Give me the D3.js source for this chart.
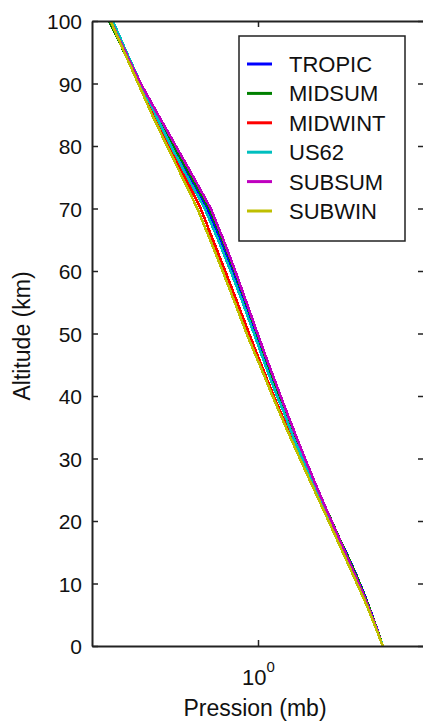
<!DOCTYPE html>
<html>
<head>
<meta charset="utf-8">
<script src="https://cdn.jsdelivr.net/npm/d3@7.9.0/dist/d3.min.js"></script>
<style>
  body { margin: 0; background: #fff; }
  svg text { font-family: Arial, "Liberation Sans", sans-serif; fill: #111; }
</style>
</head>
<body>
<div id="chart"></div>
<script>
// altitude levels (km)
const altitudes = [0,1,2,3,4,5,6,7,8,9,10,11,12,13,14,15,16,17,18,19,20,21,22,23,24,25,
  27.5,30,32.5,35,37.5,40,42.5,45,47.5,50,55,60,65,70,75,80,85,90,95,100];

// pressure (mb) for each profile
const tropic = [1013,904,805,715,633,559,492,432,378,329,286,247,213,182,156,132,111,93.7,78.9,66.6,56.5,48.0,40.9,35.0,30.0,25.7,
  17.63,12.2,8.52,6.00,4.26,3.05,2.20,1.59,1.16,0.854,0.456,0.239,0.121,0.058,0.022,0.0085,0.0035,0.0014,0.00063,0.000289];
const midsum = [1013,902,802,710,628,554,487,426,372,324,281,243,209,179,153,130,111,95.0,81.2,69.5,59.5,51.0,43.7,37.6,32.2,27.7,
  19.07,13.2,9.3,6.52,4.64,3.33,2.41,1.76,1.29,0.951,0.515,0.272,0.139,0.067,0.025,0.0093,0.0036,0.00138,0.0006,0.000258];
const midwint = [1018,897.3,789.7,693.8,608.1,531.3,462.7,401.6,347.3,299.2,256.8,219.9,188.2,161.0,137.8,117.8,100.7,86.1,73.5,62.8,53.7,45.8,39.1,33.4,28.6,24.3,
  16.6,11.1,7.35,5.0,3.45,2.40,1.69,1.20,0.85,0.61,0.315,0.162,0.082,0.0415,0.0175,0.0072,0.0031,0.0014,0.00064,0.00029];
const us62 = [1013,898.6,795.0,701.2,616.6,540.5,472.2,411.1,356.5,308.0,265.0,227.0,194.0,165.8,141.7,121.1,103.5,88.5,75.65,64.67,55.29,47.29,40.47,34.67,29.72,25.49,
  17.43,11.97,8.01,5.746,4.15,2.871,2.06,1.491,1.09,0.7978,0.425,0.219,0.109,0.0522,0.020,0.0080,0.0034,0.0015,0.00068,0.00032];
const subsum = [1010,896,792.9,700,616,541,473,413,359,310.8,267.7,230,197.7,170,146,125.8,108,92.8,79.8,68.6,58.9,50.7,43.6,37.5,32.27,27.8,
  19.4,13.6,9.61,6.83,4.88,3.51,2.53,1.83,1.33,0.975,0.527,0.283,0.147,0.0727,0.028,0.0105,0.0039,0.0015,0.00064,0.00028];
const subwin = [1013,887.8,777.5,679.8,593.2,515.8,446.7,385.3,330.8,282.9,241.8,206.7,176.6,151.0,129.1,110.3,94.31,80.58,68.82,58.75,50.14,42.77,36.47,31.09,26.49,22.56,
  15.13,10.20,6.91,4.70,3.23,2.24,1.57,1.10,0.76,0.53,0.275,0.140,0.070,0.0345,0.015,0.0064,0.0028,0.0013,0.0006,0.00028];

const seriesNames = ["TROPIC","MIDSUM","MIDWINT","US62","SUBSUM","SUBWIN"];
const seriesColors = ["#0000ff","#008000","#ff0000","#00bfbf","#bf00bf","#bfbf00"];
const seriesValues = [tropic, midsum, midwint, us62, subsum, subwin];

const yTicks = [0,10,20,30,40,50,60,70,80,90,100];
const xTicks = [1];

const W = 423, H = 726;
const margin = {left: 92, top: 21};
const width = 332, height = 625;

const svg = d3.select("#chart").append("svg")
  .attr("width", W).attr("height", H);

const g = svg.append("g").attr("transform", `translate(${margin.left},${margin.top})`);

const x = d3.scaleLog().domain([1e-4, 1e4]).range([0, width]);
const y = d3.scaleLinear().domain([0, 100]).range([height, 0]);

g.append("clipPath").attr("id", "clip")
  .append("rect").attr("width", width).attr("height", height);

const line = d3.line()
  .x(d => x(d[1]))
  .y(d => y(d[0]));

// matlab draws without antialiasing, so keep edges crisp
seriesValues.forEach((vals, i) => {
  g.append("path")
    .datum(altitudes.map((a, j) => [a, vals[j]]))
    .attr("clip-path", "url(#clip)")
    .attr("fill", "none")
    .attr("stroke", seriesColors[i])
    .attr("stroke-width", 2.6)
    .attr("stroke-linejoin", "round")
    .attr("shape-rendering", "crispEdges")
    .attr("d", line);
});

// axes, ticks pointing inward
const axisStyle = sel => {
  sel.select(".domain").attr("stroke", "#222").attr("stroke-width", 2);
  sel.selectAll(".tick line").attr("stroke", "#222").attr("stroke-width", 1.5);
};

g.append("g")
  .call(d3.axisLeft(y).tickValues(yTicks).tickSize(-6).tickSizeOuter(0).tickPadding(10))
  .call(axisStyle)
  .call(s => s.selectAll(".tick text")
    .style("font-size", "21px").attr("dy", "0.36em").style("fill", "#111"));

g.append("g").attr("transform", `translate(${width},0)`)
  .call(d3.axisRight(y).tickValues(yTicks).tickSize(-6).tickSizeOuter(0).tickFormat(""))
  .call(axisStyle);

g.append("g")
  .call(d3.axisTop(x).tickValues(xTicks).tickSize(-6).tickSizeOuter(0).tickFormat(""))
  .call(axisStyle);

const xAxis = g.append("g").attr("transform", `translate(0,${height})`)
  .call(d3.axisBottom(x).tickValues(xTicks).tickSize(-6).tickSizeOuter(0).tickFormat(""))
  .call(axisStyle);

xAxis.selectAll(".tick").append("text")
  .attr("y", 39).attr("text-anchor", "middle")
  .style("font-size", "22px").style("fill", "#111")
  .each(function(d) {
    const t = d3.select(this);
    t.append("tspan").text("10");
    t.append("tspan").attr("dy", -13).style("font-size", "15px").text(Math.round(Math.log10(d)));
  });

// axis labels
svg.append("text")
  .attr("x", 255).attr("y", 716)
  .attr("text-anchor", "middle")
  .style("font-size", "23px")
  .text("Pression (mb)");

svg.append("text")
  .attr("transform", "translate(30,336) rotate(-90)")
  .attr("text-anchor", "middle")
  .style("font-size", "23px")
  .text("Altitude (km)");

// legend
const legend = svg.append("g").attr("transform", "translate(239,36)");
legend.append("rect")
  .attr("width", 166).attr("height", 205)
  .attr("fill", "#fff").attr("stroke", "#222").attr("stroke-width", 1.5);

const item = legend.selectAll(".item")
  .data(seriesNames)
  .enter().append("g")
  .attr("transform", (d, i) => `translate(0,${28 + i * 29.4})`);

item.append("line")
  .attr("x1", 8).attr("x2", 33)
  .attr("stroke", (d, i) => seriesColors[i])
  .attr("stroke-width", 3);

item.append("text")
  .attr("x", 50).attr("y", 8)
  .style("font-size", "22px")
  .text(d => d);
</script>
</body>
</html>
